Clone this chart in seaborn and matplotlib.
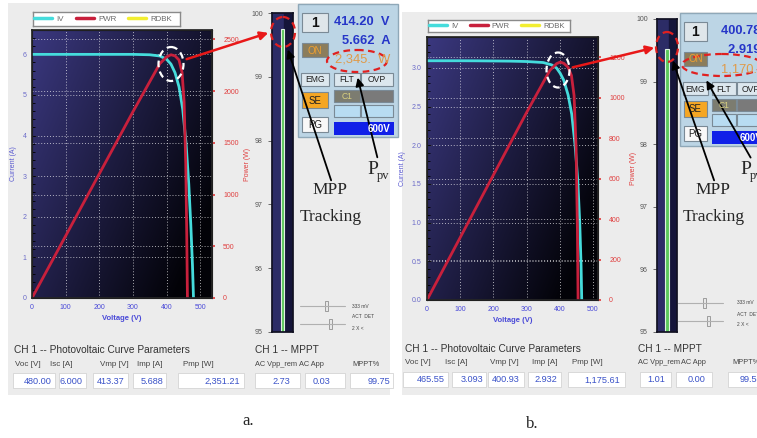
import numpy as np
import matplotlib
matplotlib.use("Agg")
import matplotlib.pyplot as plt
import seaborn as sns
from matplotlib.patches import Rectangle, Ellipse, FancyArrowPatch
from matplotlib.lines import Line2D
from matplotlib.ticker import MultipleLocator

W, H = 757, 438

# ---- panel a (2.35 kW sweep) ----
volt_a = [0, 50, 100, 150, 200, 250, 300, 350, 380, 400, 413, 425, 437, 448, 458, 466, 472, 477, 480]
curr_a = [6.0, 6.0, 6.0, 6.0, 6.0, 6.0, 6.0, 5.99, 5.96, 5.88, 5.76, 5.55, 5.20, 4.65, 3.80, 2.80, 1.80, 0.80, 0.0]
pvolt_a = [0, 100, 200, 300, 380, 400, 413, 425, 437, 446, 452, 457, 460, 462]
pwr_a = [0, 600, 1200, 1800, 2265, 2330, 2351, 2340, 2300, 2180, 1900, 1300, 600, 0]
mppt_a = 99.75
params_a = ["480.00", "6.000", "413.37", "5.688", "2,351.21"]
mpptvals_a = ["2.73", "0.03", "99.75"]
readout_a = ["414.20  V", "5.662  A", "2,345.  W"]

# ---- panel b (1.18 kW sweep) ----
volt_b = [0, 50, 100, 150, 200, 250, 300, 350, 375, 390, 401, 412, 425, 436, 446, 454, 460, 464, 466]
curr_b = [3.093, 3.093, 3.093, 3.092, 3.090, 3.088, 3.083, 3.070, 3.040, 3.000, 2.932, 2.840, 2.650, 2.400, 2.000, 1.550, 1.000, 0.450, 0.0]
pvolt_b = [0, 100, 200, 300, 370, 390, 401, 412, 425, 435, 443, 449, 453, 455]
pwr_b = [0, 309, 618, 927, 1135, 1168, 1176, 1170, 1150, 1110, 1010, 750, 350, 0]
mppt_b = 99.52
params_b = ["465.55", "3.093", "400.93", "2.932", "1,175.61"]
mpptvals_b = ["1.01", "0.00", "99.5"]
readout_b = ["400.78  V", "2.919  A", "1,170.  W"]

param_heads = ["Voc [V]", "Isc [A]", "Vmp [V]", "Imp [A]", "Pmp [W]"]
mppt_heads = ["AC Vpp_rem", "AC App", "MPPT%"]
legend_names = ["IV", "PWR", "RDBK"]

CYAN, RED, YELLOW = "#45dcdc", "#c8203c", "#f2ee30"
SANS = ["Liberation Sans Narrow", "Liberation Sans", "DejaVu Sans"]
SERIF = ["Liberation Serif", "DejaVu Serif"]

sns.set_theme(style="white")
plt.rcParams["font.family"] = SANS

fig = plt.figure(figsize=(W / 100, H / 100), dpi=100)
fig.patch.set_facecolor("white")


def px_axes(x, y, w, h, **kw):
    return fig.add_axes([x / W, 1 - (y + h) / H, w / W, h / H], **kw)


def overlay(z):
    a = px_axes(0, 0, W, H)
    a.set_xlim(0, W)
    a.set_ylim(H, 0)
    a.axis("off")
    a.patch.set_alpha(0)
    a.set_zorder(z)
    return a


bg = overlay(-5)
bg.add_patch(Rectangle((8, 3), 382, 392, fc="#ececec", ec="none"))
bg.add_patch(Rectangle((402, 12), 360, 383, fc="#ececec", ec="none"))


def iv_chart(rect, volt, curr, pvolt, pwr, xmax, imax, istep, pmax, pstep, ifmt):
    ax = px_axes(*rect)
    g = np.linspace(0, 1, 200)
    gx, gy = np.meshgrid(g, g)
    t = np.clip(0.7 * gx + 0.45 * gy, 0, 1)[..., None]
    c0 = np.array([0.23, 0.22, 0.50])
    c1 = np.array([0.01, 0.01, 0.03])
    ax.imshow(c0 * (1 - t) + c1 * t, extent=[0, 1, 0, 1], transform=ax.transAxes,
              aspect="auto", zorder=0)
    sns.lineplot(x=volt, y=curr, ax=ax, color=CYAN, lw=2, sort=False, estimator=None, zorder=3)
    ax.set_xlim(0, xmax)
    ax.set_ylim(0, imax)
    ax.set_xticks(range(0, 501, 100))
    ax.set_yticks(np.arange(0, imax, istep))
    ax.yaxis.set_major_formatter(ifmt)
    ax.xaxis.set_minor_locator(MultipleLocator(20))
    ax.yaxis.set_minor_locator(MultipleLocator(istep / 5))
    ax.grid(True, color="white", ls=(0, (1, 2)), lw=0.7, alpha=0.65)
    ax.tick_params(axis="both", which="both", direction="in", colors="black", width=0.6)
    ax.tick_params(which="major", length=3, labelsize=5, pad=4)
    ax.tick_params(which="minor", length=1.8)
    for lab in ax.get_yticklabels():
        lab.set_color("#6a6ac8")
    for lab in ax.get_xticklabels():
        lab.set_color("#4a4ad8")
    ax.set_xlabel("Voltage (V)", color="#4a4ad8", fontsize=5.5, fontweight="bold", labelpad=3)
    ax.set_ylabel("Current (A)", color="#5a5ad0", fontsize=5, labelpad=4)
    for s in ax.spines.values():
        s.set_color("black")
        s.set_linewidth(0.8)

    ax2 = ax.twinx()
    sns.lineplot(x=pvolt, y=pwr, ax=ax2, color=RED, lw=2, sort=False, estimator=None)
    ax2.set_ylim(0, pmax)
    ax2.set_yticks(np.arange(0, pmax, pstep))
    ax2.grid(axis="y", color="white", ls=(0, (1, 2)), lw=0.7, alpha=0.65)
    ax2.tick_params(axis="y", colors="#e04040", labelsize=5, length=2, pad=6)
    ax2.set_ylabel("Power (W)", color="#e04040", fontsize=5, labelpad=4, rotation=90)
    return ax


def legend_box(rect, fs):
    lax = px_axes(*rect)
    lax.set_xticks([])
    lax.set_yticks([])
    lax.set_facecolor("white")
    for s in lax.spines.values():
        s.set_color("#8a8a8a")
        s.set_linewidth(1)
    handles = [Line2D([], [], color=c, lw=2.5) for c in (CYAN, RED, YELLOW)]
    lax.legend(handles, legend_names, ncol=3, loc="center left", frameon=False, fontsize=fs,
               handlelength=2.3, columnspacing=1.5, handletextpad=0.5, borderpad=0,
               borderaxespad=0.15, labelcolor="#6a6a6a")


def mppt_chart(rect, value):
    mx = px_axes(*rect)
    mx.set_facecolor("#2c2c66")
    mx.axvspan(0.08, 0.5, color="#15153a", zorder=0)
    mx.bar([0.0], [value - 95], bottom=95, width=0.16, color="#5cc85c",
           edgecolor="#e0f2e0", lw=0.8, zorder=2)
    mx.set_xlim(-0.5, 0.5)
    mx.set_ylim(95, 100)
    mx.set_xticks([])
    mx.set_yticks(range(95, 101))
    mx.yaxis.set_minor_locator(MultipleLocator(0.1))
    mx.tick_params(axis="y", which="major", length=3, labelsize=5, colors="#555555", width=0.6)
    mx.tick_params(axis="y", which="minor", length=1.5, colors="#555555", width=0.5)
    mx.tick_params(axis="y", left=True)
    for s in mx.spines.values():
        s.set_color("#111122")


iv_chart((32, 30, 180, 268), volt_a, curr_a, pvolt_a, pwr_a, 535, 6.6, 1, 2590, 500, "{x:.0f}")
legend_box((33, 12, 147, 14), 5.7)
mppt_chart((272, 13, 21, 319), mppt_a)

iv_chart((427, 37, 171, 263), volt_b, curr_b, pvolt_b, pwr_b, 515, 3.4, 0.5, 1300, 200, "{x:.1f}")
legend_box((428, 20, 142, 12), 5.6)
mppt_chart((657, 19, 20, 313), mppt_b)

fg = overlay(10)


def box(x, y, w, h, fc, txt="", tc="#222222", ec="#7a8a96", fs=7, weight="normal"):
    fg.add_patch(Rectangle((x, y), w, h, fc=fc, ec=ec, lw=0.8))
    if txt:
        fg.text(x + w / 2, y + h / 2 + 0.5, txt, ha="center", va="center", color=tc,
                fontsize=fs, fontweight=weight)


def control_panel(x0, y0, sx, readout, rx):
    fg.add_patch(Rectangle((x0, y0), 100 * sx, 133, fc="#bcd5e5", ec="#8fa8b8", lw=1))
    box(x0 + 4 * sx, y0 + 9, 26 * sx, 19, "#dfe6ea", "1", fs=10, tc="#111111", weight="bold")
    box(x0 + 4 * sx, y0 + 39, 26 * sx, 14, "#8b7d5c", "ON", tc="#f0a030", fs=7)
    box(x0 + 3 * sx, y0 + 69, 28 * sx, 13, "#dce7ee", "EMG", fs=6.2)
    box(x0 + 36 * sx, y0 + 69, 26 * sx, 13, "#dce7ee", "FLT", fs=6.2)
    box(x0 + 63 * sx, y0 + 69, 32 * sx, 13, "#dce7ee", "OVP", fs=6.2)
    box(x0 + 4 * sx, y0 + 88, 26 * sx, 16, "#f5a623", "SE", fs=7)
    box(x0 + 36 * sx, y0 + 86, 26 * sx, 12, "#7c7c70", "C1", tc="#d8d080", fs=6.2)
    box(x0 + 63 * sx, y0 + 86, 32 * sx, 12, "#7a7a7a")
    box(x0 + 36 * sx, y0 + 101, 26 * sx, 12, "#b8dcf2")
    box(x0 + 63 * sx, y0 + 101, 32 * sx, 12, "#b8dcf2")
    box(x0 + 4 * sx, y0 + 113, 26 * sx, 15, "#f8f8f8", "PG", fs=7)
    fg.add_patch(Rectangle((x0 + 36 * sx, y0 + 118), 60 * sx, 13, fc="#1020e8", ec="none"))
    fg.text(x0 + 92 * sx, y0 + 125, "600V", ha="right", va="center", color="white",
            fontsize=7, fontweight="bold")
    cols = ["#2636c8", "#2636c8", "#e09a48"]
    for i, (txt, c) in enumerate(zip(readout, cols)):
        fg.text(x0 + rx, y0 + 18 + i * 19, txt, ha="right", va="center", color=c,
                fontsize=9.3, fontweight="bold" if i < 2 else "normal")


control_panel(298, 4, 1.0, readout_a, 92)
control_panel(680, 13, 0.9, readout_b, 96)


def sliders(x0, y0, xt):
    for k, hx in enumerate((26, 30)):
        yy = y0 + k * 18
        fg.plot([x0, x0 + 45], [yy, yy], color="#b0b0b0", lw=0.8)
        fg.add_patch(Rectangle((x0 + hx - 1.5, yy - 5), 3, 10, fc="#e8e8e8", ec="#909090", lw=0.6))
    for k, t in enumerate(["333 mV", "ACT  DET", "2 X <"]):
        fg.text(xt, y0 + k * 11, t, fontsize=3.5, color="#444444", va="center")


sliders(300, 306, 352)
sliders(678, 303, 737)


def tables(tx, ty, heads_x, vals_r, boxes, vals, mx, mheads_x, mvals_r, mboxes, mvals):
    fg.text(tx, ty, "CH 1 -- Photovoltaic Curve Parameters", fontsize=7.3, color="#333333", va="center")
    fg.text(mx, ty, "CH 1 -- MPPT", fontsize=7.3, color="#333333", va="center")
    for hx, h in zip(heads_x, param_heads):
        fg.text(hx, ty + 14, h, fontsize=5.8, color="#444444", va="center")
    for hx, h in zip(mheads_x, mppt_heads):
        fg.text(hx, ty + 14, h, fontsize=5.3, color="#444444", va="center")
    for (b0, b1), r, v in zip(boxes + mboxes, vals_r + mvals_r, vals + mvals):
        fg.add_patch(Rectangle((b0, ty + 23), b1 - b0, 15, fc="white", ec="#d4d4d4", lw=0.6))
        fg.text(r, ty + 31, v, ha="right", va="center", fontsize=6.6, color="#3a52c8")


tables(14, 350, [15, 50, 100, 137, 183], [52, 83, 125, 163, 240],
       [(13, 55), (59, 86), (93, 128), (133, 166), (178, 244)], params_a,
       255, [255, 299, 352], [290, 330, 390], [(255, 300), (305, 345), (350, 393)], mpptvals_a)
tables(405, 349, [405, 445, 490, 532, 572], [445, 483, 520, 557, 620],
       [(403, 448), (452, 486), (488, 524), (528, 561), (568, 625)], params_b,
       638, [638, 681, 732], [665, 706, 757], [(640, 671), (676, 712), (728, 762)], mpptvals_b)

# annotations
ann = dict(fill=False, ls=(0, (3, 2)), lw=1.6)
for (cx, cy, w, h), (ex, ey, ew, eh), (rx0, ry0, rx1, ry1) in [
        ((171, 64, 25, 34), (283, 32, 24, 30), (184, 60, 271, 32)),
        ((558, 70, 23, 35), (667, 47, 22, 30), (570, 68, 657, 47))]:
    fg.add_patch(Ellipse((cx, cy), w, h, ec="white", **ann))
    fg.add_patch(Ellipse((ex, ey), ew, eh, ec="#e02020", **ann))
    fg.add_patch(FancyArrowPatch((rx0, ry0), (rx1, ry1), arrowstyle="-|>", mutation_scale=12,
                                 color="#e81818", lw=1.8))

fg.add_patch(Ellipse((357, 61), 60, 22, ec="#e02020", **ann))
fg.add_patch(Ellipse((722, 65), 80, 22, ec="#e02020", **ann))

for (x0, y0, x1, y1) in [(332, 183, 287, 47), (378, 160, 357, 75),
                         (715, 183, 672, 58), (752, 160, 705, 78)]:
    fg.add_patch(FancyArrowPatch((x0, y0), (x1, y1), arrowstyle="-|>", mutation_scale=12,
                                 color="black", lw=1.3))

for mx0 in (330, 713):
    fg.text(mx0, 190, "MPP", ha="center", va="center", fontsize=12.5, family=SERIF)
    fg.text(mx0 + 1, 217, "Tracking", ha="center", va="center", fontsize=12.5, family=SERIF)
for px0 in (367, 740):
    fg.text(px0, 170, "P", ha="left", va="center", fontsize=14, family=SERIF)
    fg.text(px0 + 10, 176, "pv", ha="left", va="center", fontsize=9, family=SERIF)

fg.text(248, 421, "a.", ha="center", va="center", fontsize=12, family=SERIF)
fg.text(532, 424, "b.", ha="center", va="center", fontsize=12, family=SERIF)

fig.savefig("out.png", dpi=100)
